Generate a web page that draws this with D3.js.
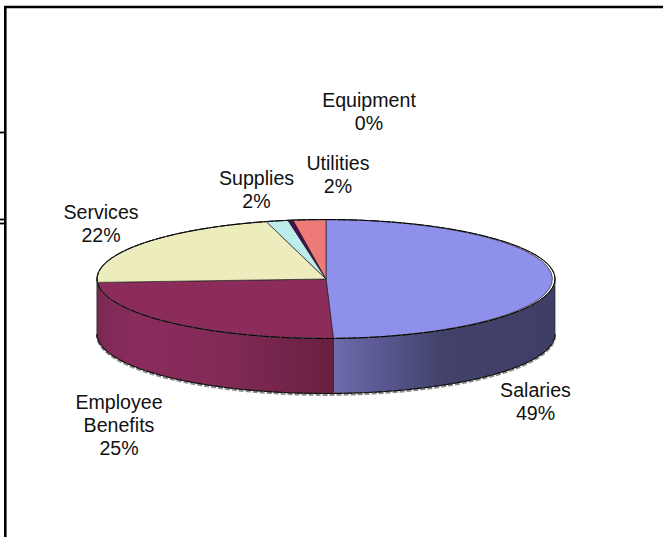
<!DOCTYPE html>
<html>
<head>
<meta charset="utf-8">
<script src="https://cdn.jsdelivr.net/npm/d3@7/dist/d3.min.js"></script>
<style>
  html, body { margin: 0; padding: 0; background: #fff; }
  svg { display: block; }
  text { font-family: "Liberation Sans", Arial, sans-serif; font-size: 19.6px; fill: #111; text-anchor: middle; }
</style>
</head>
<body>
<svg id="chart" width="663" height="537"></svg>
<script>
// Budget shares, clockwise from twelve o'clock
const categories = ["Salaries", "Employee Benefits", "Services", "Supplies", "Equipment", "Utilities"];
const shares = [49.49, 24.61, 21.7, 1.55, 0.35, 2.3];
const topColors = ["#8f8fec", "#8b2c5b", "#ececbc", "#bdecec", "#4a0a52", "#ee7a78"];

// Label layout: wrapped lines and the centre/baseline of the first line
const labelLines = [["Salaries"], ["Employee", "Benefits"], ["Services"], ["Supplies"], ["Equipment"], ["Utilities"]];
const labelCentres = [[535.5, 396.8], [119, 408.8], [101, 218.8], [256.5, 184.8], [369, 106.8], [338, 169.8]];
const lineStep = 23.3;

// Tilted disc geometry
const cx = 326, cy = 279, rx = 229, ry = 59.5, depth = 55;

const svg = d3.select("#chart");
const defs = svg.append("defs");

// Front wall shading per visible slice
const wallStops = [
  [[0, "#6d6cab"], [0.2, "#5b5a95"], [0.5, "#41416a"], [1, "#3e3e66"]],
  [[0, "#7c2853"], [0.15, "#8a2c5c"], [0.55, "#822a57"], [1, "#68203f"]]
];
const wallRange = [[333, 555], [97, 333]];
wallStops.forEach((stops, i) => {
  const g = defs.append("linearGradient")
    .attr("id", "wall" + i)
    .attr("gradientUnits", "userSpaceOnUse")
    .attr("x1", wallRange[i][0]).attr("x2", wallRange[i][1])
    .attr("y1", 0).attr("y2", 0);
  stops.forEach(s => g.append("stop").attr("offset", s[0]).attr("stop-color", s[1]));
});

// Frame and stray rules on the left edge
const frame = svg.append("g").attr("stroke", "#000").attr("fill", "none");
frame.append("path").attr("stroke-width", 2.6).attr("d", "M5.3,537V7H663");
frame.append("g").attr("stroke-width", 1.8).selectAll("line")
  .data([132.5, 219.5, 223.5]).join("line")
  .attr("x1", 0).attr("x2", 5).attr("y1", d => d).attr("y2", d => d);

const pie = d3.pie().sort(null).value(d => d)(shares);

const px = a => cx + rx * Math.sin(a);
const py = a => cy - ry * Math.cos(a);
const rim = d3.line().x(a => px(a)).y(a => py(a));
const rimLow = d3.line().x(a => px(a)).y(a => py(a) + depth);
const sample = (a0, a1) => d3.range(0, 121).map(i => a0 + (a1 - a0) * i / 120);

// Visible part of an angular span on the front half of the disc
const frontSpan = d => [Math.max(d.startAngle, Math.PI / 2), Math.min(d.endAngle, 3 * Math.PI / 2)];
const front = pie.map((d, i) => ({ d, i, span: frontSpan(d) })).filter(o => o.span[1] > o.span[0]);

// Grey fringe under the bottom edge
svg.append("path")
  .attr("d", rimLow(sample(Math.PI / 2, 3 * Math.PI / 2)))
  .attr("transform", "translate(0,1.3)")
  .attr("fill", "none").attr("stroke", "#8f8f8f").attr("stroke-width", 2.2)
  .attr("stroke-dasharray", "5 2");

// Front walls
svg.append("g").selectAll("path").data(front).join("path")
  .attr("d", o => {
    const a = sample(o.span[0], o.span[1]);
    return rim(a) + "L" + rimLow(a.slice().reverse()).slice(1) + "Z";
  })
  .attr("fill", o => o.i < 2 ? `url(#wall${o.i})` : topColors[o.i])
  .attr("stroke", "#222").attr("stroke-width", 0.7);

// Bottom edge, broken up by the fringe
svg.append("path")
  .attr("d", rimLow(sample(Math.PI / 2, 3 * Math.PI / 2)))
  .attr("fill", "none").attr("stroke", "#111").attr("stroke-width", 1.1)
  .attr("stroke-dasharray", "9 1");

// Top face: unit arcs stretched into the ellipse
const arc = d3.arc().innerRadius(0).outerRadius(1);
svg.append("g")
  .attr("transform", `translate(${cx},${cy}) scale(${rx},${ry})`)
  .selectAll("path").data(pie).join("path")
  .attr("d", arc)
  .attr("fill", (d, i) => topColors[i])
  .attr("stroke", "#222").attr("stroke-width", 0.7)
  .attr("vector-effect", "non-scaling-stroke");

// Rough outline around the top face
const outline = sample(0, 2 * Math.PI);
svg.append("path").attr("d", rim(outline) + "Z")
  .attr("fill", "none").attr("stroke", "#555").attr("stroke-width", 1.1);
svg.append("path").attr("d", rim(outline) + "Z")
  .attr("fill", "none").attr("stroke", "#000").attr("stroke-width", 1)
  .attr("stroke-dasharray", "10 1");

// Labels: category name(s) above the rounded share
const labels = svg.append("g").selectAll("text").data(categories).join("text")
  .attr("transform", (d, i) => `translate(${labelCentres[i][0]},${labelCentres[i][1]})`);
labels.selectAll("tspan")
  .data((d, i) => labelLines[i].concat(d3.format(".0f")(shares[i]) + "%"))
  .join("tspan")
  .attr("x", 0)
  .attr("y", (d, j) => j * lineStep)
  .text(d => d);
</script>
</body>
</html>
